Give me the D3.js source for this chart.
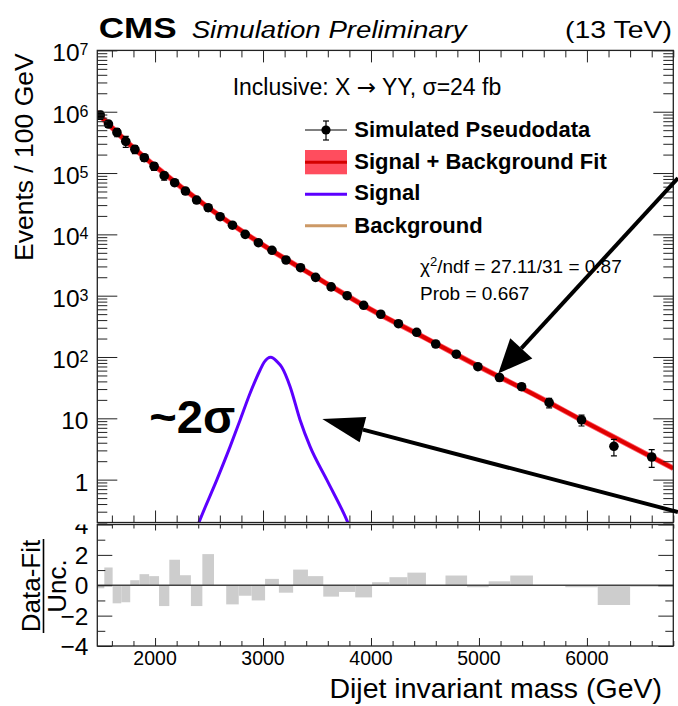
<!DOCTYPE html>
<html>
<head>
<meta charset="utf-8">
<script src="https://cdn.jsdelivr.net/npm/d3@7"></script>
<style>
  body { margin: 0; background: #fff; }
  svg { display: block; font-family: "Liberation Sans", Arial, Helvetica, sans-serif; }
</style>
</head>
<body>
<svg id="chart" width="678" height="706"></svg>
<script>
// bins of the dijet mass spectrum (GeV)
const binEdges = [1455,1530,1607,1687,1770,1856,1945,2037,2132,2231,2332,2438,2546,2659,2775,2895,3019,3147,3279,3416,3558,3704,3854,4010,4171,4337,4509,4690,4890,5090,5290,5500,5800,6100,6400,6800];
// pseudodata, events / 100 GeV
const eventsPer100 = [8.8e5,6.3e5,4.6e5,3.29e5,2.44e5,1.78e5,1.29e5,9.04e4,6.95e4,5.09e4,3.63e4,2.72e4,1.94e4,1.41e4,1.0e4,7310,5500,3820,2860,1990,1390,1000,697,498,349,253,163,111,69.5,46.3,32.8,18.0,9.4,3.5,2.34];
const eventErr = [1.3e5,7.6e4,6.9e4,6.6e4,3.7e4,2.3e4,1.9e4,1.36e4,7.0e3,6.1e3,3.6e3,3.3e3,1.9e3,1.1e3,800,580,440,310,230,160,110,80,56,40,28,25,16,11,7,5.6,3.9,3.2,1.9,1.05,0.75];
// (data - fit) / unc. per bin
const pulls = [-0.2,1.17,-1.19,-1.12,0.33,0.73,0.6,-1.37,1.68,0.66,-1.37,2.05,0,-1.26,-0.69,-1.0,0.42,-0.49,1.03,0.6,-0.75,-0.44,-0.8,0.2,0.53,0.83,0,0.64,-0.13,0.26,0.64,-0.03,-0.13,-1.3,-0.1];

// signal + background fit curve
const fitMass = [1455,1750,2000,2500,3000,3500,4000,4500,5000,5500,6000,6800];
const fitVal = [9.9e5,3.1e5,1.3e5,2.68e4,6.7e3,1.96e3,593,205,70,25,8.4,1.53];

// signal shape
const sigMass = [2380,2410,2572,2695,2788,2880,2973,3010,3072,3130,3174,3251,3343,3436,3591,3782,3815];
const sigVal = [0.15,0.207,0.99,3.45,9.4,25.6,61.4,82,99,84,68,32.8,9.4,3.45,0.99,0.207,0.15];

const massTicks = [2000,3000,4000,5000,6000];
const decadeTicks = [1,10,100,1e3,1e4,1e5,1e6,1e7];
const pullTicks = [-4,-2,0,2,4];

// annotation arrows, [mass, events] tail -> tip
const arrows = [
  { from: [6843, 8.3e4], to: [5179, 54], len: 34, half: 15 },
  { from: [6843, 0.297], to: [3549, 9.75], len: 42, half: 13 }
];

const svg = d3.select('#chart');

const x = d3.scaleLinear().domain([1465, 6800]).range([97.3, 673.3]);
const y = d3.scaleLog().domain([0.2, 1e7]).range([522.5, 50.4]);
const yr = d3.scaleLinear().domain([-4, 4]).range([646, 524.5]);

const left = 97.3, right = 673.3;

// clip regions
const defs = svg.append('defs');
defs.append('clipPath').attr('id', 'clipMain')
  .append('rect').attr('x', left).attr('y', 50.4).attr('width', right - left).attr('height', 522.5 - 50.4);
defs.append('clipPath').attr('id', 'clipRes')
  .append('rect').attr('x', left).attr('y', 524.5).attr('width', right - left).attr('height', 646 - 524.5);
defs.append('clipPath').attr('id', 'clipResLab')
  .append('rect').attr('x', 0).attr('y', 524.5).attr('width', 100).attr('height', 200);

const bins = eventsPer100.map((v, i) => ({
  lo: binEdges[i], hi: binEdges[i + 1], mid: (binEdges[i] + binEdges[i + 1]) / 2,
  v: v, err: eventErr[i], pull: pulls[i]
}));

// ---- main panel curves
const main = svg.append('g').attr('clip-path', 'url(#clipMain)');
const fitPts = fitMass.map((m, i) => [m, fitVal[i]]);
const curve = d3.line().x(d => x(d[0])).y(d => y(d[1])).curve(d3.curveMonotoneX);

main.append('path').attr('d', curve(fitPts)).attr('fill', 'none')
  .attr('stroke', '#ff5a6a').attr('stroke-width', 5.5);
main.append('path').attr('d', curve(fitPts)).attr('fill', 'none')
  .attr('stroke', '#cc9966').attr('stroke-width', 2.5);
main.append('path').attr('d', curve(fitPts)).attr('fill', 'none')
  .attr('stroke', '#e00000').attr('stroke-width', 4);

const sigPts = sigMass.map((m, i) => [m, sigVal[i]]);
main.append('path')
  .attr('d', d3.line().x(d => x(d[0])).y(d => y(d[1])).curve(d3.curveMonotoneX)(sigPts))
  .attr('fill', 'none').attr('stroke', '#5c00ff').attr('stroke-width', 3);

// data points with error bars
const pts = main.selectAll('g.pt').data(bins).join('g').attr('class', 'pt');
pts.append('line')
  .attr('x1', d => x(d.mid)).attr('x2', d => x(d.mid))
  .attr('y1', d => y(d.v + d.err)).attr('y2', d => y(Math.max(d.v - d.err, 0.01)))
  .attr('stroke', '#000').attr('stroke-width', 1.2);
pts.append('line')
  .attr('x1', d => x(d.mid) - 3).attr('x2', d => x(d.mid) + 3)
  .attr('y1', d => y(d.v + d.err)).attr('y2', d => y(d.v + d.err))
  .attr('stroke', '#000').attr('stroke-width', 1.2);
pts.append('line')
  .attr('x1', d => x(d.mid) - 3).attr('x2', d => x(d.mid) + 3)
  .attr('y1', d => y(d.v - d.err)).attr('y2', d => y(d.v - d.err))
  .attr('stroke', '#000').attr('stroke-width', 1.2);
pts.append('circle')
  .attr('cx', d => x(d.mid)).attr('cy', d => y(d.v)).attr('r', 4.8).attr('fill', '#000');

// ---- residual panel
const res = svg.append('g').attr('clip-path', 'url(#clipRes)');
res.selectAll('rect').data(bins.filter(d => d.pull !== 0)).join('rect')
  .attr('x', d => x(d.lo)).attr('width', d => x(d.hi) - x(d.lo))
  .attr('y', d => Math.min(yr(0), yr(d.pull)))
  .attr('height', d => Math.abs(yr(d.pull) - yr(0)))
  .attr('fill', '#cdcdcd');
res.append('line').attr('x1', left).attr('x2', right).attr('y1', yr(0)).attr('y2', yr(0))
  .attr('stroke', '#444').attr('stroke-width', 1.6);

// ---- axes (ticks only), frames drawn separately
function ticks(axis, tx, ty, values, size) {
  svg.append('g').attr('transform', `translate(${tx},${ty})`)
    .call(axis.tickValues(values).tickSize(size).tickSizeOuter(0).tickFormat(''))
    .call(g => g.select('.domain').remove())
    .call(g => g.selectAll('line').attr('stroke', '#222'));
}

const minorMass = d3.range(1600, 6801, 200).filter(m => m % 1000 !== 0);
const minorY = [];
for (let p = -1; p <= 6; p++) for (let k = 2; k <= 9; k++) {
  const v = k * Math.pow(10, p);
  if (v >= 0.2 && v < 1e7) minorY.push(v);
}

ticks(d3.axisRight(y), left, 0, decadeTicks, 20);
ticks(d3.axisRight(y), left, 0, minorY, 10);
ticks(d3.axisLeft(y), right, 0, decadeTicks, 20);
ticks(d3.axisLeft(y), right, 0, minorY, 10);
ticks(d3.axisBottom(x), 0, 50.4, massTicks, 12);
ticks(d3.axisBottom(x), 0, 50.4, minorMass, 7);
ticks(d3.axisTop(x), 0, 522.5, massTicks, 12);
ticks(d3.axisTop(x), 0, 522.5, minorMass, 7);

ticks(d3.axisRight(yr), left, 0, pullTicks, 15);
ticks(d3.axisRight(yr), left, 0, [-3, -1, 1, 3], 8);
ticks(d3.axisLeft(yr), right, 0, pullTicks, 15);
ticks(d3.axisLeft(yr), right, 0, [-3, -1, 1, 3], 8);
ticks(d3.axisBottom(x), 0, 524.5, massTicks, 6);
ticks(d3.axisBottom(x), 0, 524.5, minorMass, 4);
ticks(d3.axisTop(x), 0, 646, massTicks, 8);
ticks(d3.axisTop(x), 0, 646, minorMass, 5);

svg.append('rect').attr('x', left).attr('y', 50.4).attr('width', right - left).attr('height', 522.5 - 50.4)
  .attr('fill', 'none').attr('stroke', '#222').attr('stroke-width', 1.3);
svg.append('rect').attr('x', left).attr('y', 524.5).attr('width', right - left).attr('height', 646 - 524.5)
  .attr('fill', 'none').attr('stroke', '#222').attr('stroke-width', 1.3);

// ---- tick labels
const yLab = svg.append('g').attr('font-size', 24.5).attr('text-anchor', 'end').attr('fill', '#000');
decadeTicks.forEach(v => {
  const p = Math.round(Math.log10(v));
  const t = yLab.append('text').attr('x', 88.5).attr('y', y(v) + 11);
  if (p === 0) t.text('1');
  else if (p === 1) t.text('10');
  else {
    t.append('tspan').text('10');
    t.append('tspan').attr('font-size', 16).attr('dy', -6).text(p);
  }
});

const rLab = svg.append('g').attr('clip-path', 'url(#clipResLab)')
  .attr('font-size', 24.5).attr('text-anchor', 'end');
pullTicks.forEach(v => {
  rLab.append('text').attr('x', 88.5).attr('y', yr(v) + 9)
    .text(v < 0 ? '\u2212' + Math.abs(v) : String(v));
});

svg.append('g').attr('font-size', 19.5).attr('text-anchor', 'middle')
  .selectAll('text').data(massTicks).join('text')
  .attr('x', d => x(d)).attr('y', 665).text(d => d);

// ---- axis titles
svg.append('text').attr('transform', 'translate(33.3,53.3) rotate(-90)')
  .attr('text-anchor', 'end').attr('font-size', 26.5).text('Events / 100 GeV');
svg.append('text').attr('x', 662).attr('y', 698).attr('text-anchor', 'end')
  .attr('font-size', 28.5).text('Dijet invariant mass (GeV)');

svg.append('text').attr('transform', 'translate(39.8,586) rotate(-90)')
  .attr('text-anchor', 'middle').attr('font-size', 26).text('Data-Fit');
svg.append('line').attr('x1', 43.5).attr('x2', 43.5).attr('y1', 539).attr('y2', 633)
  .attr('stroke', '#000').attr('stroke-width', 1.6);
svg.append('text').attr('transform', 'translate(65.7,586) rotate(-90)')
  .attr('text-anchor', 'middle').attr('font-size', 26).text('Unc.');

// ---- header
svg.append('text').attr('x', 98.7).attr('y', 37.5).attr('font-size', 30).attr('font-weight', 'bold')
  .attr('textLength', 78).attr('lengthAdjust', 'spacingAndGlyphs').text('CMS');
svg.append('text').attr('x', 191.7).attr('y', 37.5).attr('font-size', 23).attr('font-style', 'italic')
  .attr('textLength', 275).attr('lengthAdjust', 'spacingAndGlyphs').text('Simulation Preliminary');
svg.append('text').attr('x', 565).attr('y', 37.5).attr('font-size', 24)
  .attr('textLength', 107).attr('lengthAdjust', 'spacingAndGlyphs').text('(13 TeV)');

const incl = svg.append('text').attr('x', 232.7).attr('y', 95).attr('font-size', 23);
incl.append('tspan').text('Inclusive: X ');
incl.append('tspan').attr('font-family', '"DejaVu Sans", sans-serif').text('\u2192');
incl.append('tspan').text(' YY, \u03c3=24 fb');

// ---- legend
const leg = svg.append('g');
leg.append('line').attr('x1', 305).attr('x2', 347).attr('y1', 130).attr('y2', 130).attr('stroke', '#000').attr('stroke-width', 1);
leg.append('line').attr('x1', 326).attr('x2', 326).attr('y1', 121).attr('y2', 140).attr('stroke', '#000').attr('stroke-width', 1.2);
leg.append('line').attr('x1', 323).attr('x2', 329).attr('y1', 121).attr('y2', 121).attr('stroke', '#000').attr('stroke-width', 1.2);
leg.append('line').attr('x1', 323).attr('x2', 329).attr('y1', 140).attr('y2', 140).attr('stroke', '#000').attr('stroke-width', 1.2);
leg.append('circle').attr('cx', 326).attr('cy', 130).attr('r', 4.6).attr('fill', '#000');
leg.append('rect').attr('x', 305).attr('y', 150).attr('width', 42).attr('height', 24.3).attr('fill', '#ff4d5e');
leg.append('line').attr('x1', 305).attr('x2', 347).attr('y1', 162.3).attr('y2', 162.3).attr('stroke', '#d40000').attr('stroke-width', 3);
leg.append('line').attr('x1', 305).attr('x2', 347).attr('y1', 194.3).attr('y2', 194.3).attr('stroke', '#5c00ff').attr('stroke-width', 3);
leg.append('line').attr('x1', 305).attr('x2', 347).attr('y1', 225.7).attr('y2', 225.7).attr('stroke', '#cc9966').attr('stroke-width', 3);
const legNames = ['Simulated Pseudodata', 'Signal + Background Fit', 'Signal', 'Background'];
const legBase = [137, 168.5, 200, 232.5];
leg.selectAll('text').data(legNames).join('text')
  .attr('x', 354.3).attr('y', (d, i) => legBase[i]).attr('font-size', 22).attr('font-weight', 'bold')
  .text(d => d);

// ---- fit quality
const chi = svg.append('text').attr('x', 420).attr('y', 272.7).attr('font-size', 19);
chi.append('tspan').text('\u03c7');
chi.append('tspan').attr('font-size', 13).attr('dy', -7).text('2');
chi.append('tspan').attr('dy', 7).text('/ndf = 27.11/31 = 0.87');
svg.append('text').attr('x', 420).attr('y', 300).attr('font-size', 19).text('Prob = 0.667');

// ---- ~2 sigma annotation
svg.append('text').attr('x', x(1946)).attr('y', y(5.75)).attr('font-size', 46).attr('font-weight', 'bold')
  .attr('textLength', 86).attr('lengthAdjust', 'spacingAndGlyphs').text('~2\u03c3');

arrows.forEach(a => {
  const x0 = x(a.from[0]), y0 = y(a.from[1]);
  const x1 = x(a.to[0]), y1 = y(a.to[1]);
  const dx = x0 - x1, dy = y0 - y1, n = Math.hypot(dx, dy);
  const ux = dx / n, uy = dy / n;
  const bx = x1 + ux * a.len, by = y1 + uy * a.len;
  svg.append('line').attr('x1', x0).attr('y1', y0).attr('x2', bx).attr('y2', by)
    .attr('stroke', '#000').attr('stroke-width', 4);
  svg.append('path')
    .attr('d', `M${x1},${y1}L${bx - uy * a.half},${by + ux * a.half}L${bx + uy * a.half},${by - ux * a.half}Z`)
    .attr('fill', '#000');
});
</script>
</body>
</html>
